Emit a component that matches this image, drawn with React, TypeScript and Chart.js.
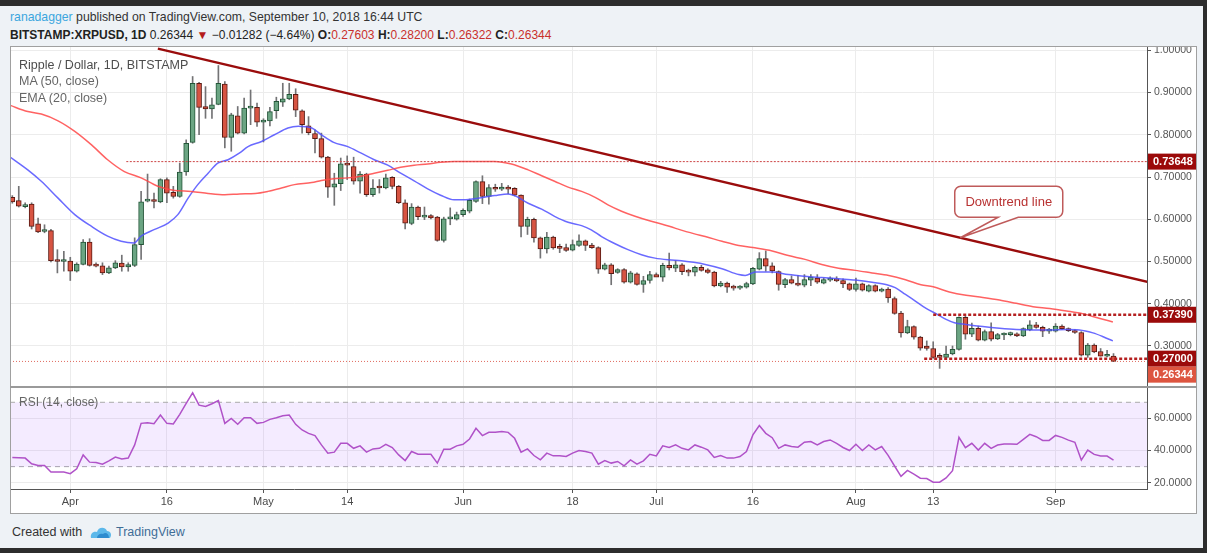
import React, { useEffect, useRef } from "react";
import { Chart, registerables } from "chart.js";

Chart.register(...registerables);

const FONT = '"Liberation Sans", Arial, sans-serif';

// Day index 0 = 2018-03-23 ... 171 = 2018-09-10
const opens = [
  0.652, 0.644, 0.630, 0.636, 0.589, 0.571, 0.573, 0.503, 0.500, 0.501,
  0.477, 0.493, 0.546, 0.493, 0.490, 0.473, 0.485, 0.496, 0.487, 0.491,
  0.540, 0.643, 0.645, 0.641, 0.694, 0.664, 0.654, 0.712, 0.782, 0.922,
  0.867, 0.861, 0.872, 0.920, 0.794, 0.845, 0.804, 0.863, 0.865, 0.830,
  0.833, 0.857, 0.877, 0.885, 0.896, 0.857, 0.821, 0.803, 0.791, 0.747,
  0.676, 0.684, 0.731, 0.725, 0.690, 0.707, 0.658, 0.677, 0.674, 0.699,
  0.678, 0.639, 0.590, 0.629, 0.605, 0.609, 0.605, 0.550, 0.601, 0.600,
  0.611, 0.619, 0.642, 0.689, 0.654, 0.675, 0.671, 0.676, 0.673, 0.657,
  0.583, 0.600, 0.556, 0.530, 0.558, 0.535, 0.533, 0.527, 0.538, 0.549,
  0.539, 0.533, 0.482, 0.492, 0.474, 0.481, 0.451, 0.471, 0.446, 0.455,
  0.469, 0.463, 0.491, 0.484, 0.492, 0.479, 0.475, 0.486, 0.480, 0.475,
  0.442, 0.449, 0.440, 0.437, 0.439, 0.447, 0.482, 0.507, 0.490, 0.476,
  0.445, 0.457, 0.449, 0.444, 0.456, 0.461, 0.449, 0.456, 0.459, 0.455,
  0.447, 0.434, 0.447, 0.430, 0.443, 0.430, 0.435, 0.412, 0.378, 0.331,
  0.346, 0.321, 0.300, 0.294, 0.276, 0.273, 0.281, 0.292, 0.368, 0.328,
  0.342, 0.314, 0.334, 0.317, 0.326, 0.327, 0.329, 0.324, 0.338, 0.350,
  0.344, 0.335, 0.335, 0.347, 0.341, 0.336, 0.332, 0.278, 0.302, 0.287,
  0.2758, 0.27603,
];
const highs = [
  0.656, 0.678, 0.639, 0.639, 0.603, 0.587, 0.576, 0.528, 0.524, 0.510,
  0.497, 0.552, 0.554, 0.497, 0.497, 0.489, 0.502, 0.515, 0.497, 0.556,
  0.666, 0.707, 0.662, 0.696, 0.698, 0.678, 0.733, 0.788, 0.938, 0.924,
  0.914, 0.887, 0.964, 0.926, 0.851, 0.867, 0.887, 0.906, 0.875, 0.838,
  0.865, 0.889, 0.922, 0.922, 0.909, 0.859, 0.843, 0.812, 0.804, 0.749,
  0.709, 0.745, 0.750, 0.747, 0.713, 0.709, 0.694, 0.694, 0.707, 0.701,
  0.680, 0.646, 0.637, 0.631, 0.629, 0.611, 0.607, 0.605, 0.627, 0.617,
  0.625, 0.648, 0.691, 0.703, 0.682, 0.683, 0.685, 0.680, 0.675, 0.658,
  0.605, 0.603, 0.558, 0.569, 0.560, 0.541, 0.541, 0.551, 0.563, 0.551,
  0.543, 0.535, 0.496, 0.495, 0.483, 0.483, 0.477, 0.473, 0.465, 0.477,
  0.473, 0.496, 0.520, 0.502, 0.495, 0.482, 0.489, 0.491, 0.483, 0.477,
  0.453, 0.451, 0.444, 0.443, 0.451, 0.486, 0.521, 0.525, 0.497, 0.478,
  0.460, 0.466, 0.467, 0.469, 0.469, 0.469, 0.461, 0.464, 0.464, 0.459,
  0.449, 0.461, 0.449, 0.445, 0.445, 0.437, 0.438, 0.416, 0.382, 0.361,
  0.348, 0.323, 0.312, 0.310, 0.282, 0.300, 0.300, 0.369, 0.371, 0.354,
  0.347, 0.338, 0.355, 0.330, 0.331, 0.333, 0.331, 0.343, 0.360, 0.356,
  0.347, 0.342, 0.353, 0.350, 0.343, 0.339, 0.334, 0.306, 0.305, 0.294,
  0.290, 0.282,
];
const lows = [
  0.638, 0.629, 0.627, 0.577, 0.568, 0.568, 0.499, 0.473, 0.477, 0.455,
  0.475, 0.492, 0.489, 0.487, 0.469, 0.471, 0.483, 0.477, 0.477, 0.488,
  0.505, 0.641, 0.627, 0.639, 0.639, 0.650, 0.652, 0.704, 0.780, 0.800,
  0.839, 0.839, 0.871, 0.769, 0.761, 0.802, 0.802, 0.824, 0.820, 0.783,
  0.821, 0.839, 0.867, 0.883, 0.843, 0.804, 0.800, 0.757, 0.745, 0.652,
  0.633, 0.668, 0.694, 0.683, 0.662, 0.654, 0.654, 0.662, 0.672, 0.672,
  0.637, 0.577, 0.587, 0.599, 0.599, 0.601, 0.548, 0.546, 0.587, 0.598,
  0.607, 0.615, 0.640, 0.637, 0.636, 0.666, 0.668, 0.660, 0.655, 0.558,
  0.564, 0.546, 0.508, 0.520, 0.529, 0.521, 0.524, 0.525, 0.536, 0.526,
  0.531, 0.472, 0.480, 0.445, 0.472, 0.449, 0.449, 0.444, 0.427, 0.449,
  0.467, 0.453, 0.480, 0.476, 0.469, 0.466, 0.466, 0.477, 0.472, 0.440,
  0.440, 0.427, 0.432, 0.434, 0.437, 0.445, 0.480, 0.477, 0.473, 0.432,
  0.438, 0.447, 0.442, 0.440, 0.443, 0.448, 0.447, 0.453, 0.452, 0.438,
  0.431, 0.430, 0.430, 0.428, 0.428, 0.428, 0.403, 0.375, 0.321, 0.329,
  0.316, 0.290, 0.290, 0.271, 0.247, 0.271, 0.279, 0.290, 0.316, 0.322,
  0.312, 0.312, 0.312, 0.315, 0.315, 0.324, 0.322, 0.322, 0.336, 0.342,
  0.322, 0.330, 0.333, 0.339, 0.334, 0.330, 0.276, 0.273, 0.284, 0.276,
  0.274, 0.26322,
];
const closes = [
  0.641, 0.631, 0.634, 0.583, 0.570, 0.573, 0.502, 0.500, 0.502, 0.477,
  0.494, 0.546, 0.491, 0.489, 0.473, 0.485, 0.497, 0.487, 0.493, 0.540,
  0.641, 0.645, 0.642, 0.694, 0.662, 0.654, 0.712, 0.780, 0.922, 0.865,
  0.861, 0.871, 0.922, 0.794, 0.847, 0.804, 0.863, 0.866, 0.830, 0.835,
  0.855, 0.879, 0.885, 0.896, 0.858, 0.824, 0.805, 0.791, 0.747, 0.676,
  0.684, 0.731, 0.728, 0.690, 0.707, 0.658, 0.674, 0.674, 0.698, 0.678,
  0.639, 0.591, 0.629, 0.606, 0.609, 0.603, 0.550, 0.601, 0.603, 0.611,
  0.621, 0.645, 0.689, 0.654, 0.675, 0.671, 0.676, 0.671, 0.657, 0.583,
  0.600, 0.556, 0.530, 0.558, 0.532, 0.531, 0.526, 0.540, 0.549, 0.538,
  0.533, 0.482, 0.492, 0.471, 0.481, 0.451, 0.473, 0.446, 0.455, 0.469,
  0.463, 0.491, 0.485, 0.492, 0.476, 0.475, 0.486, 0.479, 0.474, 0.442,
  0.449, 0.439, 0.437, 0.440, 0.448, 0.484, 0.507, 0.489, 0.478, 0.446,
  0.457, 0.449, 0.444, 0.457, 0.463, 0.451, 0.457, 0.459, 0.454, 0.447,
  0.434, 0.447, 0.432, 0.443, 0.430, 0.435, 0.414, 0.377, 0.331, 0.346,
  0.321, 0.295, 0.294, 0.273, 0.273, 0.281, 0.292, 0.368, 0.328, 0.342,
  0.314, 0.334, 0.316, 0.327, 0.328, 0.330, 0.324, 0.341, 0.350, 0.344,
  0.335, 0.339, 0.347, 0.341, 0.336, 0.332, 0.278, 0.302, 0.286, 0.276,
  0.2762, 0.26344,
];

const rsiValues = [
  35.7, 35.5, 35.3, 31.8, 30.7, 30.7, 26.6, 26.6, 26.6, 25.6,
  28.7, 37.3, 32.8, 32.6, 31.5, 33.6, 35.9, 34.8, 35.3, 43.5,
  56.9, 57.3, 56.7, 62.1, 56.9, 56.5, 62.5, 69.3, 75.9, 68.2,
  67.4, 69.1, 71.1, 56.9, 60.0, 56.3, 60.4, 60.4, 56.9, 57.5,
  59.4, 60.4, 61.6, 62.1, 56.3, 52.8, 50.7, 49.3, 43.5, 38.4,
  39.0, 44.5, 44.5, 41.4, 42.9, 39.0, 41.0, 41.4, 43.9, 41.9,
  37.3, 33.8, 39.4, 37.7, 37.7, 37.7, 32.2, 40.8, 40.8, 42.9,
  43.9, 47.2, 53.8, 49.3, 51.3, 51.3, 51.8, 51.3, 47.6, 39.0,
  41.0, 36.9, 34.2, 38.4, 36.7, 36.7, 36.3, 38.4, 40.0, 39.4,
  38.4, 31.5, 33.8, 32.2, 33.2, 30.5, 34.2, 31.5, 33.6, 37.7,
  36.7, 42.9, 41.9, 43.5, 41.4, 40.4, 43.5, 42.1, 40.4, 35.7,
  36.9, 35.3, 35.3, 36.3, 39.4, 49.7, 55.5, 50.7, 48.0, 41.4,
  43.5, 42.5, 42.1, 45.2, 45.6, 43.5, 45.6, 46.6, 44.5, 41.9,
  40.0, 43.9, 40.0, 43.5, 40.4, 42.5, 37.0, 30.4, 24.0, 27.7,
  25.3, 22.8, 22.6, 20.3, 20.3, 23.0, 27.5, 48.2, 41.8, 44.5,
  40.3, 44.5, 41.4, 43.4, 44.1, 44.1, 43.9, 47.0, 50.1, 48.6,
  46.3, 46.3, 49.4, 48.2, 46.5, 45.1, 34.1, 40.3, 37.6, 36.6,
  36.6, 34.1,
];

// MA (50) and EMA (20) at sample points
const maIdx = [
  -0.4, 2.4, 4.5, 7.1, 9.7, 12.3, 14.8, 17.4, 20, 22.6, 25.2, 27.8, 30.4, 33, 35.3,
  37.7, 39.7, 41.8, 43.8, 46.5, 48, 49.9, 52.1, 54.1, 56.2, 58.3, 60.3, 62.4, 64.5,
  66.5, 68.6, 70.4, 74.9, 77.5, 80.1, 82.2, 84.2, 86.3, 88.4, 90.5, 92.5, 94.6, 96.7,
  98.8, 100.8, 102.9, 105.8, 107.6, 110.2, 112.8, 115, 118, 120.5, 123.1, 125.7,
  128.3, 130.9, 133.5, 136.1, 138.7, 141.1, 143, 145.5, 148.1, 150.7, 153.3, 155.9,
  158.5, 161.1, 163.7, 166.3, 168.9, 170.9,
];
const maVals = [
  0.870, 0.855, 0.849, 0.833, 0.808, 0.776, 0.741, 0.713, 0.698, 0.678, 0.668, 0.666, 0.661, 0.658, 0.660,
  0.661, 0.666, 0.674, 0.682, 0.687, 0.692, 0.696, 0.698, 0.702, 0.709, 0.716, 0.723, 0.728, 0.731,
  0.735, 0.737, 0.737, 0.737, 0.731, 0.717, 0.703, 0.690, 0.676, 0.666, 0.652, 0.634, 0.619, 0.607,
  0.597, 0.589, 0.579, 0.566, 0.559, 0.548, 0.538, 0.533, 0.525, 0.514, 0.505, 0.493,
  0.484, 0.479, 0.473, 0.467, 0.457, 0.445, 0.440, 0.428, 0.420, 0.415, 0.409, 0.401,
  0.393, 0.389, 0.383, 0.376, 0.365, 0.357,
];
const emaIdx = [
  -0.4, 2.4, 4.5, 7.1, 9.7, 12.3, 14.8, 16.9, 18.9, 20, 22.1, 24.2, 25.7, 27.3, 28.8,
  30.4, 31.9, 33.5, 35.3, 36.6, 38.7, 40.7, 42.8, 44.4, 46.5, 48, 49.9, 52.1, 54.1,
  56.2, 58.3, 60.3, 62.4, 64.5, 66.5, 68.6, 70.4, 72.3, 74.9, 77, 78, 80.1, 82.2,
  84.2, 86.3, 88.4, 89.9, 91.5, 93.6, 95.6, 97.7, 99.8, 101.9, 103.9, 105.8, 107.6,
  110.2, 112.8, 113.8, 115.4, 118, 120.5, 123.1, 125.7, 128.3, 130.9, 133.5, 135.8,
  137.1, 138.7, 139.9, 141.9, 143.5, 145, 146.3, 148.1, 150.7, 153.3, 155.9, 158.5,
  161.1, 163.7, 165.7, 167.8, 169.4, 170.9,
];
const emaVals = [
  0.748, 0.717, 0.690, 0.650, 0.611, 0.583, 0.560, 0.548, 0.544, 0.560, 0.576, 0.591, 0.611, 0.650, 0.682,
  0.709, 0.733, 0.741, 0.757, 0.772, 0.784, 0.800, 0.816, 0.820, 0.816, 0.800, 0.782, 0.772, 0.757,
  0.741, 0.728, 0.709, 0.691, 0.672, 0.657, 0.646, 0.646, 0.650, 0.656, 0.660, 0.656, 0.638, 0.624,
  0.607, 0.593, 0.585, 0.575, 0.559, 0.542, 0.528, 0.516, 0.508, 0.504, 0.502, 0.498, 0.493,
  0.483, 0.469, 0.467, 0.475, 0.475, 0.469, 0.465, 0.462, 0.459, 0.456, 0.451, 0.445,
  0.438, 0.422, 0.410, 0.389, 0.376, 0.363, 0.355, 0.351, 0.346, 0.342, 0.339, 0.338,
  0.338, 0.339, 0.338, 0.331, 0.322, 0.312,
];

const trendIdx = [22.6, 176.6];
const trendVals = [1.004, 0.4505];

const levelValues = [0.73648, 0.3739, 0.27];
const levelStarts = [17.7, 143, 141.6];
const lastPrice = 0.26344;

const tickIdx = [9, 24, 39, 52, 70, 87, 100, 115, 131, 143, 162];
const tickLabels = ["Apr", "16", "May", "14", "Jun", "18", "Jul", "16", "Aug", "13", "Sep"];
const priceTicks = [0.3, 0.4, 0.5, 0.6, 0.7, 0.8, 0.9, 1.0];
const rsiTicks = [20, 40, 60];
const rsiBands = [70, 30];

const X_MIN = -0.36;
const X_MAX = 176.2;
const Y_MIN = 0.2029;
const Y_MAX = 1.0102;
const R_MIN = 16.1;
const R_MAX = 79.5;

const UP = "#6ba583";
const UP_B = "#225437";
const DN = "#d75442";
const DN_B = "#5b1a13";

const labelPlugin = {
  id: "priceLabels",
  afterDraw(chart: any) {
    const ctx = chart.ctx;
    const ys = chart.scales.y;
    const xs = chart.scales.x;
    const area = chart.chartArea;
    // callout
    const tipI = 147.2;
    const tv =
      trendVals[0] + ((tipI - trendIdx[0]) * (trendVals[1] - trendVals[0])) / (trendIdx[1] - trendIdx[0]);
    const tx = xs.getPixelForValue(tipI);
    const ty = ys.getPixelForValue(tv);
    const bx = tx - 5.5, by = ty - 51.5, bw = 108, bh = 31, r = 6;
    ctx.save();
    ctx.beginPath();
    ctx.moveTo(bx + r, by);
    ctx.lineTo(bx + bw - r, by);
    ctx.arcTo(bx + bw, by, bx + bw, by + r, r);
    ctx.lineTo(bx + bw, by + bh - r);
    ctx.arcTo(bx + bw, by + bh, bx + bw - r, by + bh, r);
    ctx.lineTo(tx + 58, by + bh);
    ctx.lineTo(tx, ty);
    ctx.lineTo(tx + 38, by + bh);
    ctx.lineTo(bx + r, by + bh);
    ctx.arcTo(bx, by + bh, bx, by + bh - r, r);
    ctx.lineTo(bx, by + r);
    ctx.arcTo(bx, by, bx + r, by, r);
    ctx.closePath();
    ctx.fillStyle = "#ffffff";
    ctx.fill();
    ctx.strokeStyle = "#bf5a5a";
    ctx.lineWidth = 1.5;
    ctx.stroke();
    ctx.fillStyle = "#b83232";
    ctx.font = "13px " + FONT;
    ctx.textAlign = "center";
    ctx.textBaseline = "middle";
    ctx.fillText("Downtrend line", bx + bw / 2, by + bh / 2 + 0.5);
    ctx.restore();

    // price axis labels
    const items = [
      ...levelValues.map((v) => ({ v, c: "#9b0a0a" })),
      { v: lastPrice, c: "#dd5540" },
    ]
      .map((it) => ({ ...it, p: ys.getPixelForValue(it.v) }))
      .sort((a, b) => a.p - b.p);
    let prevBottom = -1000;
    ctx.save();
    for (const it of items) {
      let cy = it.p;
      if (cy - 8 < prevBottom) cy = prevBottom + 8;
      prevBottom = cy + 8;
      ctx.fillStyle = it.c;
      ctx.fillRect(area.right + 1, cy - 8, chart.width - area.right - 1, 16);
      ctx.fillStyle = "#ffffff";
      ctx.font = "bold 11px " + FONT;
      ctx.textAlign = "left";
      ctx.textBaseline = "middle";
      ctx.fillText(it.v.toFixed(5), area.right + 6, cy + 0.5);
    }
    ctx.restore();
  },
};

function MainChart() {
  const ref = useRef<HTMLCanvasElement>(null);
  useEffect(() => {
    const wicks = highs.map((h, i) => ({ x: i, y: [lows[i], h] }));
    const bodies = opens.map((o, i) => ({ x: i, y: [Math.min(o, closes[i]), Math.max(o, closes[i])] }));
    const isUp = opens.map((o, i) => closes[i] >= o);
    const lineBase = { type: "line", pointRadius: 0, fill: false, borderWidth: 1 };
    const chart = new Chart(ref.current as HTMLCanvasElement, {
      type: "bar",
      data: {
        datasets: [
          {
            type: "bar",
            data: wicks,
            backgroundColor: "#737375",
            barThickness: 1,
            grouped: false,
            order: 6,
          },
          {
            type: "bar",
            data: bodies,
            backgroundColor: isUp.map((u) => (u ? UP : DN)),
            borderColor: isUp.map((u) => (u ? UP_B : DN_B)),
            borderWidth: 1,
            borderSkipped: false,
            barThickness: 5,
            minBarLength: 2,
            grouped: false,
            order: 5,
          },
          {
            ...lineBase,
            data: [{ x: X_MIN, y: lastPrice }, { x: X_MAX, y: lastPrice }],
            borderColor: "#e06a5e",
            borderDash: [1, 2],
            order: 4,
          },
          {
            ...lineBase,
            data: maIdx.map((x, i) => ({ x, y: maVals[i] })),
            borderColor: "rgba(255,70,70,0.85)",
            borderWidth: 1.5,
            cubicInterpolationMode: "monotone",
            order: 3,
          },
          {
            ...lineBase,
            data: emaIdx.map((x, i) => ({ x, y: emaVals[i] })),
            borderColor: "rgba(80,80,255,0.85)",
            borderWidth: 1.5,
            cubicInterpolationMode: "monotone",
            order: 3,
          },
          ...levelValues.map((v, k) => ({
            ...lineBase,
            data: [{ x: levelStarts[k], y: v }, { x: X_MAX, y: v }],
            borderColor: k === 0 ? "#cc4444" : "#b52020",
            borderWidth: k === 0 ? 1 : 2.5,
            borderDash: k === 0 ? [2, 1.5] : [3, 2],
            order: 2,
          })),
          {
            ...lineBase,
            data: trendIdx.map((x, i) => ({ x, y: trendVals[i] })),
            borderColor: "#9a0c0c",
            borderWidth: 2.5,
            order: 1,
          },
        ] as any,
      },
      options: {
        animation: false,
        responsive: false,
        events: [],
        layout: { padding: 0 },
        plugins: { legend: { display: false }, tooltip: { enabled: false } },
        scales: {
          x: {
            type: "linear",
            min: X_MIN,
            max: X_MAX,
            offset: false,
            afterBuildTicks: (s: any) => {
              s.ticks = tickIdx.map((v) => ({ value: v }));
            },
            ticks: { display: false, autoSkip: false },
            grid: { color: "#ececec", drawTicks: false, offset: false },
            border: { display: false },
            afterFit: (s: any) => {
              s.height = 0;
              s.paddingLeft = 0;
              s.paddingRight = 0;
            },
          },
          y: {
            type: "linear",
            position: "right",
            min: Y_MIN,
            max: Y_MAX,
            afterBuildTicks: (s: any) => {
              s.ticks = priceTicks.map((v) => ({ value: v }));
            },
            ticks: {
              callback: (v: any) => Number(v).toFixed(5),
              color: "#555",
              font: { size: 10.5, family: FONT },
              padding: 3,
              autoSkip: false,
            },
            grid: { color: "#ececec", tickColor: "#555", tickLength: 4 },
            border: { display: true, color: "#555" },
            afterFit: (s: any) => {
              s.width = 49;
              s.paddingTop = 0;
              s.paddingBottom = 0;
            },
          },
        },
      } as any,
      plugins: [labelPlugin],
    });
    return () => chart.destroy();
  }, []);
  return (
    <canvas
      ref={ref}
      width={1186}
      height={341}
      style={{ position: "absolute", left: 10, top: 46, width: 1186, height: 341 }}
    />
  );
}

function RsiChart() {
  const ref = useRef<HTMLCanvasElement>(null);
  useEffect(() => {
    const chart = new Chart(ref.current as HTMLCanvasElement, {
      type: "line",
      data: {
        datasets: [
          {
            data: rsiValues.map((v, i) => ({ x: i, y: v })),
            borderColor: "#b052c8",
            borderWidth: 1.5,
            pointRadius: 0,
            fill: false,
            tension: 0,
            order: 1,
          },
          {
            data: [{ x: X_MIN, y: rsiBands[0] }, { x: X_MAX, y: rsiBands[0] }],
            borderColor: "#aaaaaa",
            borderWidth: 1,
            borderDash: [5, 4],
            pointRadius: 0,
            fill: "+1",
            backgroundColor: "rgba(155,70,255,0.11)",
            order: 2,
          },
          {
            data: [{ x: X_MIN, y: rsiBands[1] }, { x: X_MAX, y: rsiBands[1] }],
            borderColor: "#aaaaaa",
            borderWidth: 1,
            borderDash: [5, 4],
            pointRadius: 0,
            fill: false,
            order: 3,
          },
        ] as any,
      },
      options: {
        animation: false,
        responsive: false,
        events: [],
        layout: { padding: 0 },
        plugins: { legend: { display: false }, tooltip: { enabled: false } },
        scales: {
          x: {
            type: "linear",
            min: X_MIN,
            max: X_MAX,
            afterBuildTicks: (s: any) => {
              s.ticks = tickIdx.map((v) => ({ value: v }));
            },
            ticks: {
              autoSkip: false,
              maxRotation: 0,
              padding: 2,
              color: "#4a4a4a",
              font: { size: 11, family: FONT },
              callback: (v: any) => {
                const k = tickIdx.indexOf(Number(v));
                return k >= 0 ? tickLabels[k] : "";
              },
            },
            grid: { color: "#ececec", tickColor: "#555", tickLength: 4 },
            border: { display: true, color: "#555" },
            afterFit: (s: any) => {
              s.height = 24;
              s.paddingLeft = 0;
              s.paddingRight = 0;
            },
          },
          y: {
            type: "linear",
            position: "right",
            min: R_MIN,
            max: R_MAX,
            afterBuildTicks: (s: any) => {
              s.ticks = rsiTicks.map((v) => ({ value: v }));
            },
            ticks: {
              callback: (v: any) => Number(v).toFixed(4),
              color: "#555",
              font: { size: 10.5, family: FONT },
              padding: 3,
              autoSkip: false,
            },
            grid: { color: "#ececec", tickColor: "#555", tickLength: 4 },
            border: { display: true, color: "#555" },
            afterFit: (s: any) => {
              s.width = 49;
              s.paddingTop = 0;
              s.paddingBottom = 0;
            },
          },
        },
      } as any,
    });
    return () => chart.destroy();
  }, []);
  return (
    <canvas
      ref={ref}
      width={1186}
      height={126}
      style={{ position: "absolute", left: 10, top: 387, width: 1186, height: 126 }}
    />
  );
}

const txt = (extra: React.CSSProperties): React.CSSProperties => ({
  position: "absolute",
  fontFamily: FONT,
  whiteSpace: "nowrap",
  lineHeight: "16px",
  ...extra,
});

export default function App() {
  useEffect(() => {
    document.body.style.margin = "0";
  }, []);
  const red = "#c9302c";
  return (
    <div
      style={{
        position: "fixed",
        left: 0,
        top: 0,
        width: 1207,
        height: 553,
        background: "#2d2d2d",
        overflow: "hidden",
      }}
    >
      <div style={{ position: "absolute", left: 0, top: 6, width: 1203, height: 542, background: "#eef2f6" }} />
      <div
        style={{
          position: "absolute",
          left: 10,
          top: 46,
          width: 1186,
          height: 467,
          background: "#ffffff",
        }}
      />
      <MainChart />
      <RsiChart />
      {/* frame and pane divider */}
      <div
        style={{
          position: "absolute",
          left: 10,
          top: 46,
          width: 1185,
          height: 466,
          border: "1px solid #a0a0a0",
          pointerEvents: "none",
        }}
      />
      <div style={{ position: "absolute", left: 10, top: 386, width: 1187, height: 2, background: "#9a9a9a" }} />

      <div style={txt({ left: 10, top: 9, fontSize: 12.25, color: "#333" })}>
        <span style={{ color: "#3ba6de" }}>ranadagger</span> published on TradingView.com, September 10, 2018 16:44 UTC
      </div>
      <div style={txt({ left: 10, top: 27, fontSize: 12, color: "#222" })}>
        <b>BITSTAMP:XRPUSD, 1D</b> 0.26344 <span style={{ color: "#b51c1c" }}>▼</span> −0.01282 (−4.64%){" "}
        <b>O:</b>
        <span style={{ color: red }}>0.27603</span> <b>H:</b>
        <span style={{ color: red }}>0.28200</span> <b>L:</b>
        <span style={{ color: red }}>0.26322</span> <b>C:</b>
        <span style={{ color: red }}>0.26344</span>
      </div>

      <div style={txt({ left: 19, top: 57, fontSize: 12.5, color: "#4d4d4d" })}>Ripple / Dollar, 1D, BITSTAMP</div>
      <div style={txt({ left: 19, top: 73, fontSize: 12.5, color: "#666" })}>MA (50, close)</div>
      <div style={txt({ left: 19, top: 89.5, fontSize: 12.5, color: "#666" })}>EMA (20, close)</div>
      <div style={txt({ left: 19, top: 394, fontSize: 12, color: "#666" })}>RSI (14, close)</div>

      <div style={txt({ left: 12, top: 524, fontSize: 12.5, color: "#333" })}>Created with</div>
      <svg style={{ position: "absolute", left: 89, top: 525 }} width={24} height={14} viewBox="0 0 24 14">
        <path d="M2 13 C1 9 4 6 8 7 C9 2 16 1 18 6 C22 6 23 10 21 13 Z" fill="#5cb8ea" />
        <path d="M8 13 C8 10 11 8 14 9 C16 7 20 8 20 13 Z" fill="#2e8ccf" />
      </svg>
      <div style={txt({ left: 116, top: 524, fontSize: 12.5, color: "#3f6d96" })}>TradingView</div>
    </div>
  );
}
